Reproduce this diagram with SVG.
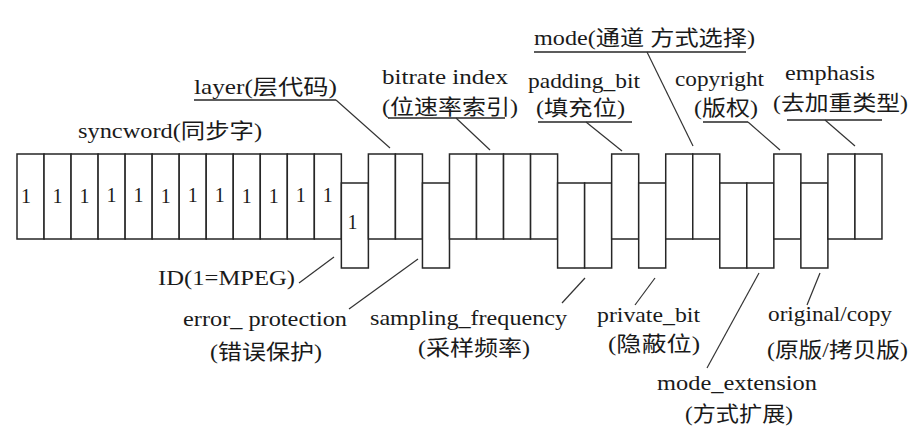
<svg xmlns="http://www.w3.org/2000/svg" width="922" height="429" viewBox="0 0 922 429">
<style>
.c{fill:#fff;stroke:#262626;stroke-width:1.5}
.b{font-family:"Liberation Serif","Noto Sans CJK SC",serif;font-size:20px;fill:#1a1a1a;text-anchor:middle}
.t{font-family:"Liberation Serif","Noto Sans CJK SC",serif;font-size:21px;fill:#1a1a1a}
.u{stroke:#262626;stroke-width:1.5;fill:none}
.l{stroke:#333;stroke-width:1.2;fill:none}
</style>
<rect width="922" height="429" fill="#fff"/>
<g id="syncword">
<rect class="c" x="17" y="154" width="27.03" height="85"/>
<rect class="c" x="44.03" y="154" width="27.03" height="85"/>
<rect class="c" x="71.06" y="154" width="27.03" height="85"/>
<rect class="c" x="98.09" y="154" width="27.03" height="85"/>
<rect class="c" x="125.12" y="154" width="27.03" height="85"/>
<rect class="c" x="152.15" y="154" width="27.03" height="85"/>
<rect class="c" x="179.18" y="154" width="27.03" height="85"/>
<rect class="c" x="206.21" y="154" width="27.03" height="85"/>
<rect class="c" x="233.24" y="154" width="27.03" height="85"/>
<rect class="c" x="260.27" y="154" width="27.03" height="85"/>
<rect class="c" x="287.3" y="154" width="27.03" height="85"/>
<rect class="c" x="314.33" y="154" width="27.03" height="85"/>
<text class="b" x="26" y="203">1</text>
<text class="b" x="57.5" y="203">1</text>
<text class="b" x="84.5" y="203">1</text>
<text class="b" x="111.6" y="202">1</text>
<text class="b" x="138.6" y="202">1</text>
<text class="b" x="165.7" y="203">1</text>
<text class="b" x="192.7" y="202">1</text>
<text class="b" x="219.7" y="202">1</text>
<text class="b" x="246.8" y="203">1</text>
<text class="b" x="273.8" y="203">1</text>
<text class="b" x="300.8" y="202">1</text>
<text class="b" x="327.8" y="202">1</text>
<text class="t" x="78" y="138" textLength="184" lengthAdjust="spacingAndGlyphs">syncword(同步字)</text>
</g>
<g id="id">
<rect class="c" x="341.36" y="183" width="27.03" height="85"/>
<text class="b" x="352.5" y="228.5">1</text>
<text class="t" x="158" y="285" textLength="137" lengthAdjust="spacingAndGlyphs">ID(1=MPEG)</text>
</g>
<g id="layer">
<rect class="c" x="368.39" y="154" width="27.03" height="85"/>
<rect class="c" x="395.42" y="154" width="27.03" height="85"/>
<text class="t" x="194" y="94" textLength="143" lengthAdjust="spacingAndGlyphs">layer(层代码)</text>
<line class="u" x1="194" y1="100" x2="336" y2="100"/>
</g>
<g id="error_protection">
<rect class="c" x="422.45" y="183" width="27.03" height="85"/>
<text class="t" x="183" y="326" textLength="164" lengthAdjust="spacingAndGlyphs">error_ protection</text>
<text class="t" x="210" y="359" textLength="112" lengthAdjust="spacingAndGlyphs">(错误保护)</text>
</g>
<g id="bitrate_index">
<rect class="c" x="449.48" y="154" width="27.03" height="85"/>
<rect class="c" x="476.51" y="154" width="27.03" height="85"/>
<rect class="c" x="503.54" y="154" width="27.03" height="85"/>
<rect class="c" x="530.57" y="154" width="27.03" height="85"/>
<text class="t" x="382" y="84" textLength="126" lengthAdjust="spacingAndGlyphs">bitrate  index</text>
<text class="t" x="382" y="114" textLength="136" lengthAdjust="spacingAndGlyphs">(位速率索引)</text>
<line class="u" x1="388" y1="118" x2="505" y2="118"/>
</g>
<g id="sampling_frequency">
<rect class="c" x="557.6" y="183" width="27.03" height="85"/>
<rect class="c" x="584.63" y="183" width="27.03" height="85"/>
<text class="t" x="370" y="325" textLength="197" lengthAdjust="spacingAndGlyphs">sampling_frequency</text>
<text class="t" x="418" y="355" textLength="112" lengthAdjust="spacingAndGlyphs">(采样频率)</text>
</g>
<g id="padding_bit">
<rect class="c" x="611.66" y="154" width="27.03" height="85"/>
<text class="t" x="528" y="88" textLength="112" lengthAdjust="spacingAndGlyphs">padding_bit</text>
<text class="t" x="536" y="115" textLength="89" lengthAdjust="spacingAndGlyphs">(填充位)</text>
<line class="u" x1="538" y1="122" x2="632" y2="122"/>
</g>
<g id="private_bit">
<rect class="c" x="638.69" y="183" width="27.03" height="85"/>
<text class="t" x="597" y="322" textLength="103" lengthAdjust="spacingAndGlyphs">private_bit</text>
<text class="t" x="608" y="351" textLength="92" lengthAdjust="spacingAndGlyphs">(隐蔽位)</text>
</g>
<g id="mode">
<rect class="c" x="665.72" y="154" width="27.03" height="85"/>
<rect class="c" x="692.75" y="154" width="27.03" height="85"/>
<text class="t" x="534" y="45" textLength="221" lengthAdjust="spacingAndGlyphs">mode(通道 方式选择)</text>
<line class="u" x1="534" y1="52" x2="746" y2="52"/>
</g>
<g id="mode_extension">
<rect class="c" x="719.78" y="183" width="27.03" height="85"/>
<rect class="c" x="746.81" y="183" width="27.03" height="85"/>
<text class="t" x="657" y="390" textLength="160" lengthAdjust="spacingAndGlyphs">mode_extension</text>
<text class="t" x="685" y="421" textLength="108" lengthAdjust="spacingAndGlyphs">(方式扩展)</text>
</g>
<g id="copyright">
<rect class="c" x="773.84" y="154" width="27.03" height="85"/>
<text class="t" x="675" y="86" textLength="89" lengthAdjust="spacingAndGlyphs">copyright</text>
<text class="t" x="694" y="115" textLength="64" lengthAdjust="spacingAndGlyphs">(版权)</text>
<line class="u" x1="703" y1="122" x2="748" y2="122"/>
</g>
<g id="original_copy">
<rect class="c" x="800.87" y="183" width="27.03" height="85"/>
<text class="t" x="768" y="321" textLength="124" lengthAdjust="spacingAndGlyphs">original/copy</text>
<text class="t" x="767" y="357" textLength="141" lengthAdjust="spacingAndGlyphs">(原版/拷贝版)</text>
</g>
<g id="emphasis">
<rect class="c" x="827.9" y="154" width="27.03" height="85"/>
<rect class="c" x="854.93" y="154" width="27.03" height="85"/>
<text class="t" x="785" y="80" textLength="90" lengthAdjust="spacingAndGlyphs">emphasis</text>
<text class="t" x="773" y="110" textLength="135" lengthAdjust="spacingAndGlyphs">(去加重类型)</text>
<line class="u" x1="787" y1="120" x2="882" y2="120"/>
</g>
<g id="connectors">
<line class="l" x1="336" y1="100" x2="390" y2="148"/>
<line class="l" x1="456" y1="118" x2="490" y2="150"/>
<line class="l" x1="586" y1="122" x2="622" y2="151"/>
<line class="l" x1="647" y1="52" x2="693" y2="146"/>
<line class="l" x1="748" y1="122" x2="780" y2="150"/>
<line class="l" x1="825" y1="120" x2="855" y2="146"/>
<line class="l" x1="299" y1="283" x2="334" y2="257"/>
<line class="l" x1="349" y1="309" x2="418" y2="259"/>
<line class="l" x1="562" y1="303" x2="585" y2="278"/>
<line class="l" x1="635" y1="305" x2="655" y2="278"/>
<line class="l" x1="707" y1="368" x2="759" y2="273"/>
<line class="l" x1="807" y1="305" x2="820" y2="273"/>
</g>
</svg>
